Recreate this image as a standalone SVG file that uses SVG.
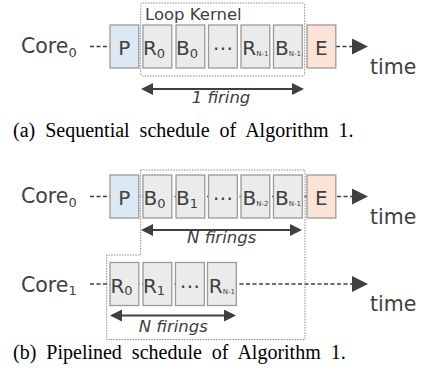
<svg xmlns="http://www.w3.org/2000/svg" width="422" height="376" viewBox="0 0 422 376">
<style>
.box{stroke:#9a9a9a;stroke-width:1.3;fill:#ebebeb}
.p{fill:#dde8f5}
.e{fill:#fbe4d5}
.lbl{font-family:"DejaVu Sans",sans-serif;font-size:20px;fill:#404040;text-anchor:middle}
.core{font-family:"DejaVu Sans",sans-serif;font-size:20.5px;fill:#404040}
.sub{font-size:13px}
.tiny{font-size:7px}
.dash{stroke:#404040;stroke-width:1.5;stroke-dasharray:4 2.5;fill:none}
.kernel{stroke:#8a8a8a;stroke-width:1;stroke-dasharray:1.5 1.2;fill:none}
.span{stroke:#404040;stroke-width:2;fill:none;marker-start:url(#head);marker-end:url(#head)}
.tarrow{marker-end:url(#big)}
.it{font-family:"DejaVu Sans",sans-serif;font-style:italic;font-size:16.5px;fill:#404040;text-anchor:middle}
.cap{font-family:"Liberation Serif","Times New Roman",serif;font-size:20px;fill:#000;word-spacing:5px}
</style>
<defs>
<marker id="head" viewBox="0 0 12 12" refX="10" refY="6" markerWidth="12" markerHeight="12" markerUnits="userSpaceOnUse" orient="auto-start-reverse"><path d="M0,0 L12,6 L0,12 z" fill="#404040"/></marker>
<marker id="big" viewBox="0 0 16 16" refX="2" refY="8" markerWidth="16" markerHeight="16" markerUnits="userSpaceOnUse" orient="auto"><path d="M0,0 L16,8 L0,16 z" fill="#404040"/></marker>
</defs>

<g id="connectors">
  <line class="dash" x1="90" y1="46.5" x2="110" y2="46.5"/>
  <line class="dash tarrow" x1="336" y1="46.5" x2="354" y2="46.5"/>
  <line class="span" x1="143" y1="89" x2="302" y2="89"/>
  <line class="dash tarrow" x1="90" y1="196.5" x2="354" y2="196.5"/>
  <line class="span" x1="143" y1="230" x2="300" y2="230"/>
  <line class="dash tarrow" x1="90" y1="284" x2="354" y2="284"/>
  <line class="span" x1="112" y1="315.5" x2="234" y2="315.5"/>
</g>

<g id="kernel-a"><rect class="kernel" x="140.7" y="3" width="164" height="73" rx="2"/>
  <text class="core" x="145" y="20" style="font-size:16.5px">Loop Kernel</text></g>
<g id="kernel-b"><path class="kernel" d="M140.7,170 H305 V339.5 H106.7 V255 H140.7 Z"/></g>

<g id="core0-a"><text class="core" x="21" y="53.3">Core<tspan class="sub" dy="3.4">0</tspan></text></g>
<g id="a-P"><rect class="box p" x="110" y="25" width="28.8" height="43"/><text class="lbl" x="124.4" y="55">P</text></g>
<g id="a-R0"><rect class="box" x="143" y="25" width="28.8" height="43"/><text class="lbl" x="154" y="55">R<tspan class="sub" dy="2.5">0</tspan></text></g>
<g id="a-B0"><rect class="box" x="176" y="25" width="28.8" height="43"/><text class="lbl" x="187" y="55">B<tspan class="sub" dy="2.5">0</tspan></text></g>
<g id="a-dots"><rect class="box" x="208.5" y="25" width="28.8" height="43"/><text class="lbl" x="222.9" y="55">⋯</text></g>
<g id="a-RN1"><rect class="box" x="241" y="25" width="28.8" height="43"/><text class="lbl" x="255.4" y="55">R<tspan class="tiny" dy="1">N-1</tspan></text></g>
<g id="a-BN1"><rect class="box" x="273.5" y="25" width="28.8" height="43"/><text class="lbl" x="287.9" y="55">B<tspan class="tiny" dy="1">N-1</tspan></text></g>
<g id="a-E"><rect class="box e" x="307" y="25" width="28.8" height="43"/><text class="lbl" x="321.4" y="55">E</text></g>
<g id="time-a"><text class="core" x="370" y="73.5">time</text></g>
<g id="lbl-a"><text class="it" x="221" y="103">1 firing</text></g>

<text class="cap" x="13" y="137">(a) Sequential schedule of Algorithm 1.</text>

<g id="core0-b"><text class="core" x="21" y="203.3">Core<tspan class="sub" dy="3.4">0</tspan></text></g>
<g id="b-P"><rect class="box p" x="110" y="175" width="28.8" height="43"/><text class="lbl" x="124.4" y="205">P</text></g>
<g id="b-B0"><rect class="box" x="143" y="175" width="28.8" height="43"/><text class="lbl" x="154.5" y="205">B<tspan class="sub" dy="2.5">0</tspan></text></g>
<g id="b-B1"><rect class="box" x="176" y="175" width="28.8" height="43"/><text class="lbl" x="187" y="205">B<tspan class="sub" dy="2.5">1</tspan></text></g>
<g id="b-dots"><rect class="box" x="208.5" y="175" width="28.8" height="43"/><text class="lbl" x="222.9" y="205">⋯</text></g>
<g id="b-BN2"><rect class="box" x="241" y="175" width="28.8" height="43"/><text class="lbl" x="255.4" y="205">B<tspan class="tiny" dy="1">N-2</tspan></text></g>
<g id="b-BN1"><rect class="box" x="273.5" y="175" width="28.8" height="43"/><text class="lbl" x="287.9" y="205">B<tspan class="tiny" dy="1">N-1</tspan></text></g>
<g id="b-E"><rect class="box e" x="307" y="175" width="28.8" height="43"/><text class="lbl" x="321.4" y="205">E</text></g>
<g id="time-b0"><text class="core" x="370" y="223.5">time</text></g>
<g id="lbl-b0"><text class="it" x="221.7" y="243">N firings</text></g>

<g id="core1-b"><text class="core" x="21" y="291.5">Core<tspan class="sub" dy="3.4">1</tspan></text></g>
<g id="b-R0"><rect class="box" x="110" y="262.5" width="28.8" height="43"/><text class="lbl" x="121.5" y="292.5">R<tspan class="sub" dy="2.5">0</tspan></text></g>
<g id="b-R1"><rect class="box" x="143" y="262.5" width="28.8" height="43"/><text class="lbl" x="154" y="292.5">R<tspan class="sub" dy="2.5">1</tspan></text></g>
<g id="b-dots2"><rect class="box" x="175.5" y="262.5" width="28.8" height="43"/><text class="lbl" x="189.9" y="292.5">⋯</text></g>
<g id="b-RN1"><rect class="box" x="207.5" y="262.5" width="28.8" height="43"/><text class="lbl" x="221.9" y="292.5">R<tspan class="tiny" dy="1">N-1</tspan></text></g>
<g id="time-b1"><text class="core" x="370" y="311">time</text></g>
<g id="lbl-b1"><text class="it" x="173.3" y="332">N firings</text></g>

<text class="cap" x="13" y="359">(b) Pipelined schedule of Algorithm 1.</text>
</svg>
